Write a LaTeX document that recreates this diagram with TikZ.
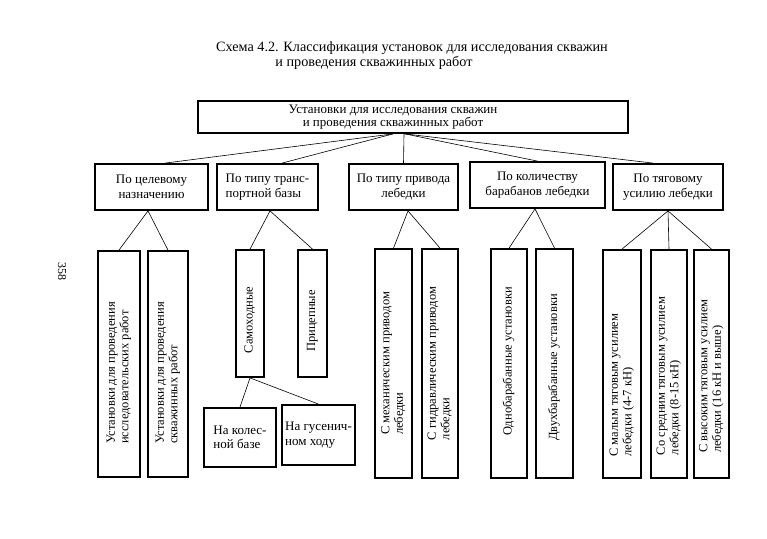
\documentclass[tikz,border=0pt]{standalone}
\usepackage{fontspec}
\setmainfont{Liberation Serif}
\newcommand{\vtext}[2][0pt]{\rotatebox{90}{\begin{tabular}{@{}l@{}}#2\end{tabular}\hspace*{#1}}}
\begin{document}
\begin{tikzpicture}[x=1pt,y=-1pt,
  box/.style={draw, line width=1.8pt, inner sep=1pt, align=center,
    font=\fontsize{13}{14.5}\selectfont},
  vbox/.style={box, font=\fontsize{12.5}{13.5}\selectfont},
  link/.style={line width=0.6pt},
  ttl/.style={font=\fontsize{14.2}{15}\selectfont, inner sep=0pt}]
\useasboundingbox (0,0) rectangle (767,538);
\fill[white] (0,0) rectangle (767,538);

% title
\node[ttl] (title1) at (412,48) {Схема 4.2. Классификация установок  для исследования скважин};
\node[ttl] (title2) at (374,63) {и проведения скважинных работ};
\node[font=\fontsize{12}{13}\selectfont, rotate=-90, inner sep=0pt] (page) at (62,271) {358};

% top box
\node[box, minimum width=430, minimum height=32] (top) at (413,117)
  {\begin{tabular}{@{}c@{}}Установки для исследования скважин\\[-1pt]и проведения скважинных работ\end{tabular}\hspace*{40pt}};

% level 2
\node[box, minimum width=113, minimum height=46] (b1) at (151.5,187)
  {По целевому\\назначению};
\node[box, minimum width=101, minimum height=46, align=left] (b2) at (267.5,187)
  {По типу транс-\\портной базы};
\node[box, minimum width=109, minimum height=46] (b3) at (403.5,187)
  {По типу привода\\лебедки};
\node[box, minimum width=135, minimum height=46] (b4) at (537.5,185)
  {По количеству\\барабанов лебедки};
\node[box, minimum width=110, minimum height=46] (b5) at (668,187)
  {По тяговому\\усилию лебедки};

% level 3
\node[vbox, minimum width=42, minimum height=226] (c1) at (119,364)
  {\vtext[18pt]{Установки для проведения\\исследовательских работ}};
\node[vbox, minimum width=40, minimum height=226] (c2) at (168,364)
  {\vtext[18pt]{Установки для проведения\\скважинных работ}};
\node[vbox, minimum width=28, minimum height=127] (c3) at (250,313.5)
  {\vtext[13pt]{Самоходные}};
\node[vbox, minimum width=29, minimum height=127] (c4) at (312.5,313.5)
  {\vtext[15pt]{Прицепные}};
\node[vbox, minimum width=37, minimum height=229] (c5) at (393.5,363.5)
  {\vtext{С механическим приводом\\лебедки}};
\node[vbox, minimum width=36, minimum height=229] (c6) at (440,363.5)
  {\vtext{С гидравлическим приводом\\лебедки}};
\node[vbox, minimum width=36, minimum height=229] (c7) at (509,363.5)
  {\vtext[-4pt]{Однобарабанные установки}};
\node[vbox, minimum width=37, minimum height=229] (c8) at (554.5,363.5)
  {\vtext[8pt]{Двухбарабанные установки}};
\node[vbox, minimum width=38, minimum height=228] (c9) at (622,364)
  {\vtext[42pt]{С малым тяговым усилием\\лебедки (4-7 кН)}};
\node[vbox, minimum width=36, minimum height=228] (c10) at (669,364)
  {\vtext[24pt]{Со средним тяговым усилием\\лебедки (8-15 кН)}};
\node[vbox, minimum width=35, minimum height=228] (c11) at (711.5,364)
  {\vtext[24pt]{С высоким тяговым усилием\\лебедки (16 кН и выше)}};

% level 4
\node[box, minimum width=72, minimum height=59, align=left] (d1) at (240,437.5)
  {На колес-\\ной базе};
\node[box, minimum width=73, minimum height=60, align=left] (d2) at (318.5,435)
  {На гусенич-\\ном ходу};

% connectors
\draw[link] ([xshift=-20pt]top.south) -- ([xshift=13.5pt]b1.north);
\draw[link] ([xshift=-20pt]top.south) -- ([xshift=14.5pt]b2.north);
\draw[link] ([xshift=-9pt]top.south) -- (b3.north);
\draw[link] ([xshift=-8pt]top.south) -- (b4.north);
\draw[link] ([xshift=-8pt]top.south) -- ([xshift=-15pt]b5.north);

\draw[link] ([xshift=-3.5pt]b1.south) -- (c1.north);
\draw[link] ([xshift=-3.5pt]b1.south) -- (c2.north);
\draw[link] ([xshift=2.5pt]b2.south) -- (c3.north);
\draw[link] ([xshift=2.5pt]b2.south) -- (c4.north);
\draw[link] ([xshift=4.5pt]b3.south) -- (c5.north);
\draw[link] ([xshift=4.5pt]b3.south) -- (c6.north);
\draw[link] ([xshift=-2.5pt]b4.south) -- (c7.north);
\draw[link] ([xshift=-2.5pt]b4.south) -- (c8.north);
\draw[link] (b5.south) -- (c9.north);
\draw[link] (b5.south) -- (c10.north);
\draw[link] (b5.south) -- (c11.north);
\draw[link] (c3.south) -- (d1.north);
\draw[link] (c3.south) -- (d2.north);
\end{tikzpicture}
\end{document}
